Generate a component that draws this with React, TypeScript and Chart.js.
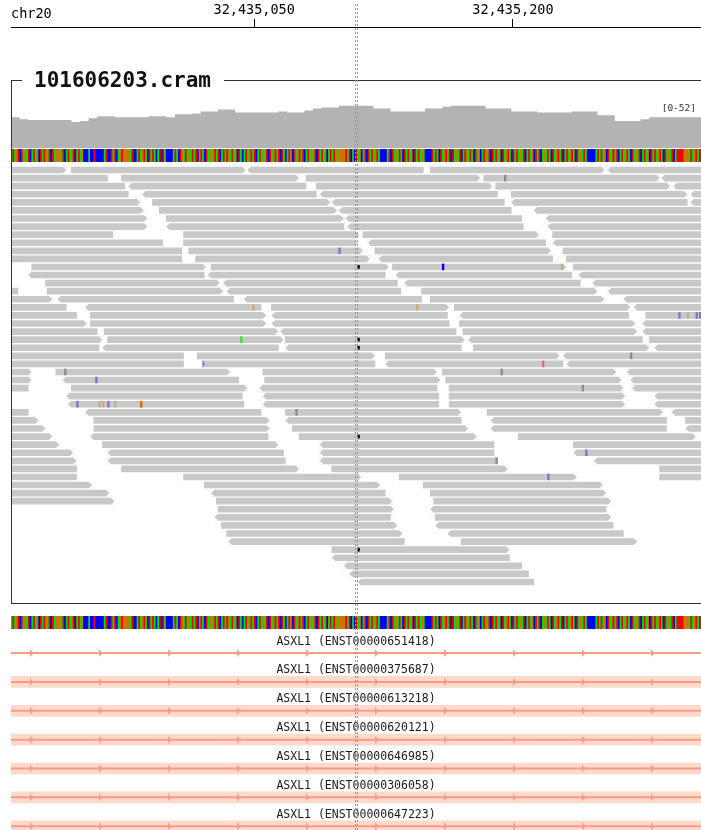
import React, { useEffect, useRef } from 'react';
import { Chart, registerables } from 'chart.js';

Chart.register(...registerables);

const MONO = '"DejaVu Sans Mono", monospace';

// ---------------- data ----------------
const CHROM = 'chr20';
const REGION_START = 32434909;
const REGION_END = 32435309;
const CENTER = (REGION_START + REGION_END) / 2;
const RULER_TICKS = [32435050, 32435200];
const TRACK_NAME = '101606203.cram';

const COVERAGE_MAX = 52;
const COVERAGE_BIN = 5; // bp per value
const coverageDepth = [
  32, 32, 30, 29, 29, 29, 29, 29, 27, 28,
  31, 33, 33, 32, 32, 32, 32, 33, 33, 32,
  35, 35, 36, 38, 38, 40, 40, 37, 37, 37,
  37, 37, 38, 37, 37, 39, 41, 42, 42, 44,
  44, 44, 44, 41, 41, 38, 38, 38, 38, 41,
  41, 43, 44, 44, 44, 44, 41, 41, 41, 38,
  38, 38, 37, 37, 37, 37, 38, 38, 38, 34,
  34, 28, 28, 28, 30, 32, 32, 32, 32, 32,
];

const SEQUENCE =
  'ATAGTCTAGA' + 'TCATAGCTAT' + 'GATCTAGGGA' + 'TCATAGTCAT' + 'AGCCCACCTC' +
  'CCCCATCCTA' + 'TCAGTGGGGA' + 'TCCATAGTAC' + 'TATACATCTA' + 'CCCCATACTG' +
  'ATAGATATCG' + 'TACTAGAGTA' + 'TCATATGATA' + 'GCTACATAGT' + 'ATCATAGATC' +
  'TAGTATCTAC' + 'ATGCTAGTAT' + 'CATAGATCTA' + 'TAGCATATGA' + 'GGGGTATCAC' +
  'TAGCATCTAT' + 'AGTACCCCAT' + 'CTAGATACTA' + 'TAGCTATAGA' + 'CCCCTATACT' +
  'AGTATCTAGA' + 'TCATGATACT' + 'AGCATGATCT' + 'ATAGCTAGTA' + 'CTATAGATCA' +
  'TAGCTATCAG' + 'ATACTAGTAT' + 'CATAGTACTA' + 'GATACCCCCA' + 'TATAGCTAGT' +
  'ATCATAGTAC' + 'TAGATCATAG' + 'CTATAGTACT' + 'AGATCATTTT' + 'GGGATAGTAT';

// reads: [row, start (bp from REGION_START), end (bp from REGION_START), strand]
const reads: [number, number, number, string][] = [
  [0, -69, 32, 'F'], [0, 35, 136, 'F'], [0, 137, 239, 'R'], [0, 243, 344, 'F'], [0, 346, 447, 'R'],
  [1, -45, 56, 'R'], [1, 64, 167, 'F'], [1, 171, 272, 'F'], [1, 274, 376, 'F'], [1, 377, 478, 'R'],
  [2, -35, 66, 'R'], [2, 68, 171, 'R'], [2, 177, 279, 'F'], [2, 281, 382, 'F'], [2, 384, 485, 'R'],
  [3, -33, 68, 'R'], [3, 76, 177, 'R'], [3, 179, 282, 'R'], [3, 290, 392, 'F'], [3, 394, 495, 'R'],
  [4, -26, 75, 'F'], [4, 82, 185, 'F'], [4, 186, 286, 'R'], [4, 290, 392, 'R'], [4, 394, 495, 'R'],
  [5, -24, 77, 'F'], [5, 86, 189, 'F'], [5, 190, 290, 'R'], [5, 303, 404, 'R'],
  [6, -22, 79, 'F'], [6, 90, 193, 'F'], [6, 194, 296, 'R'], [6, 310, 411, 'R'],
  [7, -22, 79, 'F'], [7, 90, 193, 'R'], [7, 195, 297, 'R'], [7, 311, 412, 'R'],
  [8, -42, 59, 'R'], [8, 100, 202, 'F'], [8, 204, 306, 'F'], [8, 314, 415, 'F'],
  [9, -13, 88, 'R'], [9, 100, 201, 'F'], [9, 207, 310, 'R'], [9, 314, 415, 'R'],
  [10, -2, 99, 'R'], [10, 103, 204, 'F'], [10, 211, 313, 'F'], [10, 320, 421, 'F'],
  [11, -2, 99, 'R'], [11, 107, 208, 'F'], [11, 213, 314, 'R'], [11, 322, 423, 'F'],
  [12, 12, 113, 'F'], [12, 116, 219, 'F'], [12, 221, 322, 'F'], [12, 326, 427, 'F'],
  [13, 10, 112, 'R'], [13, 114, 217, 'R'], [13, 223, 325, 'R'], [13, 329, 430, 'R'],
  [14, 20, 121, 'F'], [14, 123, 224, 'R'], [14, 228, 330, 'R'], [14, 337, 438, 'R'],
  [15, -97, 4, 'R'], [15, 21, 123, 'F'], [15, 125, 226, 'R'], [15, 238, 340, 'F'], [15, 346, 447, 'R'],
  [16, -77, 24, 'F'], [16, 27, 129, 'R'], [16, 135, 238, 'R'], [16, 243, 344, 'F'], [16, 355, 456, 'R'],
  [17, -69, 32, 'R'], [17, 43, 145, 'R'], [17, 151, 254, 'F'], [17, 257, 359, 'F'], [17, 361, 462, 'R'],
  [18, -63, 38, 'R'], [18, 46, 148, 'F'], [18, 151, 253, 'R'], [18, 260, 358, 'R'], [18, 368, 469, 'F'],
  [19, -57, 44, 'F'], [19, 46, 148, 'F'], [19, 151, 254, 'R'], [19, 260, 362, 'F'], [19, 366, 467, 'R'],
  [20, -51, 50, 'R'], [20, 54, 155, 'F'], [20, 156, 258, 'R'], [20, 262, 363, 'F'], [20, 366, 467, 'R'],
  [21, -48, 53, 'F'], [21, 56, 158, 'F'], [21, 159, 263, 'F'], [21, 265, 366, 'R'], [21, 370, 471, 'F'],
  [22, -50, 51, 'R'], [22, 53, 155, 'R'], [22, 159, 261, 'R'], [22, 268, 370, 'F'], [22, 373, 474, 'R'],
  [23, -1, 100, 'R'], [23, 108, 211, 'F'], [23, 217, 318, 'F'], [23, 320, 421, 'R'],
  [24, -1, 100, 'R'], [24, 111, 211, 'R'], [24, 217, 320, 'R'], [24, 322, 423, 'R'],
  [25, -89, 12, 'F'], [25, 26, 127, 'F'], [25, 146, 247, 'F'], [25, 250, 351, 'F'], [25, 357, 458, 'R'],
  [26, -89, 12, 'F'], [26, 30, 132, 'R'], [26, 147, 249, 'F'], [26, 252, 354, 'F'], [26, 359, 460, 'R'],
  [27, -91, 10, 'R'], [27, 35, 137, 'F'], [27, 144, 247, 'R'], [27, 254, 355, 'F'], [27, 360, 461, 'R'],
  [28, 32, 134, 'R'], [28, 146, 248, 'R'], [28, 254, 356, 'F'], [28, 373, 474, 'R'],
  [29, 33, 135, 'R'], [29, 146, 248, 'R'], [29, 254, 356, 'F'], [29, 373, 474, 'R'],
  [30, -91, 10, 'R'], [30, 43, 145, 'R'], [30, 159, 261, 'F'], [30, 276, 378, 'F'], [30, 383, 484, 'R'],
  [31, -85, 16, 'F'], [31, 48, 150, 'F'], [31, 159, 261, 'R'], [31, 278, 380, 'R'], [31, 391, 492, 'F'],
  [32, -81, 20, 'F'], [32, 48, 150, 'F'], [32, 163, 265, 'F'], [32, 278, 380, 'R'], [32, 391, 492, 'R'],
  [33, -77, 24, 'F'], [33, 46, 149, 'R'], [33, 167, 270, 'F'], [33, 294, 397, 'F'],
  [34, -73, 28, 'F'], [34, 53, 155, 'F'], [34, 179, 280, 'R'], [34, 326, 427, 'F'],
  [35, -65, 36, 'F'], [35, 56, 158, 'R'], [35, 179, 280, 'R'], [35, 326, 427, 'R'],
  [36, -63, 38, 'F'], [36, 56, 159, 'R'], [36, 179, 282, 'R'], [36, 338, 439, 'R'],
  [37, -63, 38, 'R'], [37, 64, 167, 'F'], [37, 186, 288, 'F'], [37, 376, 477, 'F'],
  [38, -63, 38, 'R'], [38, 100, 203, 'F'], [38, 225, 328, 'F'], [38, 376, 477, 'F'],
  [39, -54, 47, 'F'], [39, 112, 214, 'F'], [39, 239, 343, 'F'],
  [40, -44, 57, 'F'], [40, 116, 217, 'R'], [40, 243, 345, 'F'],
  [41, -41, 60, 'F'], [41, 119, 221, 'F'], [41, 245, 348, 'F'],
  [42, 120, 222, 'F'], [42, 243, 345, 'R'],
  [43, 118, 220, 'R'], [43, 246, 348, 'F'],
  [44, 122, 224, 'F'], [44, 246, 349, 'R'],
  [45, 125, 227, 'F'], [45, 253, 355, 'R'],
  [46, 126, 228, 'R'], [46, 261, 363, 'F'],
  [47, 186, 289, 'F'],
  [48, 186, 289, 'R'],
  [49, 193, 296, 'R'],
  [50, 196, 300, 'R'],
  [51, 201, 303, 'R'],
];

// mismatches: [row, position (bp from REGION_START), base, low quality]
const mismatches: [number, number, string, number][] = [
  [1, 286, 'N', 0], [10, 190, 'C', 1], [12, 250, 'C', 0], [12, 319, 'G', 1], [17, 140, 'G', 1],
  [17, 235, 'G', 1], [18, 387, 'C', 1], [18, 392, 'G', 1], [18, 397, 'C', 1], [18, 399, 'C', 1],
  [21, 133, 'A', 0], [23, 359, 'N', 0], [24, 111, 'C', 1], [24, 308, 'T', 1], [25, 31, 'N', 0],
  [25, 284, 'N', 0], [26, 49, 'C', 1], [27, 331, 'N', 0], [29, 38, 'C', 1], [29, 51, 'G', 1],
  [29, 53, 'G', 1], [29, 56, 'C', 1], [29, 60, 'G', 1], [29, 75, 'G', 0], [30, 165, 'N', 0],
  [35, 333, 'C', 1], [36, 281, 'N', 0], [38, 311, 'C', 1],
];

// deletions: [row, position (bp from REGION_START)]
const deletions: [number, number][] = [[12, 201], [21, 201], [22, 201], [33, 201], [47, 201]];

const GENE = 'ASXL1';
const transcripts = [
  'ENST00000651418', 'ENST00000375687', 'ENST00000613218', 'ENST00000620121',
  'ENST00000646985', 'ENST00000306058', 'ENST00000647223',
];
const transcriptHasExonHere = [false, true, true, true, true, true, true];
const GENE_START = 32358330;
const GENE_END = 32439319;
const EXON_START = 32433476;
const EXON_END = 32439319;
const strandArrowOffsets = [12, 52, 92, 132, 172, 212, 252, 292, 332, 372];

// ---------------- styles ----------------
const BASE_COLORS: Record<string, string> = {
  A: 'rgb(0,225,0)', C: 'rgb(0,0,245)', G: 'rgb(209,113,5)', T: 'rgb(245,0,0)', N: 'rgb(140,140,140)',
};
const MISMATCH_SOLID: Record<string, string> = {
  A: 'rgb(60,225,60)', C: 'rgb(0,0,230)', G: 'rgb(209,113,5)', T: 'rgb(240,0,0)', N: 'rgb(140,140,140)',
};
const MISMATCH_FADED: Record<string, string> = {
  A: 'rgba(0,210,0,0.45)', C: 'rgba(0,0,230,0.4)', G: 'rgba(209,113,5,0.32)', T: 'rgba(240,0,0,0.45)', N: 'rgb(150,150,150)',
};
const COVERAGE_COLOR = 'rgb(179,179,179)';
const READ_COLOR = 'rgb(200,200,200)';
const GENE_LINE = 'rgb(250,155,135)';
const GENE_BAND = 'rgb(255,218,204)';

const common: any = {
  responsive: false,
  maintainAspectRatio: false,
  animation: false,
  events: [],
  layout: { autoPadding: false, padding: { left: 11, right: 0, top: 0, bottom: 0 } },
  plugins: { legend: { display: false }, tooltip: { enabled: false }, title: { display: false } },
};

const xScale = (extra: any = {}) => ({
  type: 'linear', min: REGION_START, max: REGION_END, display: false, offset: false, ...extra,
});

// ---------------- configs ----------------
function rulerConfig(): any {
  const rulerPlugin = {
    id: 'rulerExtras',
    afterDraw(chart: any) {
      const { ctx, chartArea, scales } = chart;
      const x = scales.x;
      ctx.save();
      ctx.font = `13.5px ${MONO}`;
      ctx.fillStyle = '#000';
      ctx.textAlign = 'left';
      ctx.textBaseline = 'alphabetic';
      ctx.fillText(CHROM, chartArea.left, x.bottom - 9);
      // centre guide line
      const cx = Math.round(x.getPixelForValue(CENTER));
      ctx.strokeStyle = 'rgb(150,150,150)';
      ctx.lineWidth = 1;
      ctx.setLineDash([2, 2]);
      [cx - 0.5, cx + 1.5].forEach((lx) => {
        ctx.beginPath();
        ctx.moveTo(lx, 4);
        ctx.lineTo(lx, chart.height);
        ctx.stroke();
      });
      ctx.restore();
    },
  };
  return {
    type: 'line',
    data: { datasets: [] },
    options: {
      ...common,
      scales: {
        x: {
          type: 'linear', position: 'top', min: REGION_START, max: REGION_END, offset: false,
          afterBuildTicks: (s: any) => { s.ticks = RULER_TICKS.map((v) => ({ value: v })); },
          afterFit: (s: any) => { s.height = 27; },
          ticks: {
            autoSkip: false, maxRotation: 0, minRotation: 0, padding: 0, color: '#000',
            font: { family: MONO, size: 13.5 },
            callback: (v: any) => Number(v).toLocaleString('en-US'),
          },
          grid: { drawOnChartArea: false, drawTicks: true, tickLength: 8, color: '#000', lineWidth: 1 },
          border: { display: true, color: '#000', width: 1 },
        },
        y: { display: false, min: 0, max: 1 },
      },
    },
    plugins: [rulerPlugin],
  };
}

function coverageConfig(): any {
  const pts = coverageDepth.map((d, i) => ({ x: REGION_START + i * COVERAGE_BIN, y: d }));
  pts.push({ x: REGION_END, y: coverageDepth[coverageDepth.length - 1] });
  const rangePlugin = {
    id: 'rangeLabel',
    afterDraw(chart: any) {
      const { ctx, chartArea } = chart;
      ctx.save();
      ctx.font = `9.5px ${MONO}`;
      ctx.fillStyle = '#333';
      ctx.textAlign = 'right';
      ctx.textBaseline = 'middle';
      ctx.fillText(`[0-${COVERAGE_MAX}]`, chartArea.right - 5, chartArea.top + 11);
      ctx.restore();
    },
  };
  return {
    type: 'line',
    data: {
      datasets: [{
        data: pts, stepped: 'after', fill: 'origin', backgroundColor: COVERAGE_COLOR,
        borderColor: 'transparent', borderWidth: 0, pointRadius: 0,
      }],
    },
    options: {
      ...common,
      scales: { x: xScale(), y: { type: 'linear', min: 0, max: COVERAGE_MAX, display: false } },
    },
    plugins: [rangePlugin],
  };
}

function sequenceConfig(): any {
  const bases = SEQUENCE.split('');
  return {
    type: 'bar',
    data: {
      datasets: [{
        data: bases.map((_b, i) => ({ x: REGION_START + i + 0.5, y: 1 })),
        backgroundColor: bases.map((b) => BASE_COLORS[b]),
        barPercentage: 1, categoryPercentage: 1, borderWidth: 0, grouped: false,
      }],
    },
    options: {
      ...common,
      scales: { x: xScale(), y: { type: 'linear', min: 0, max: 1, display: false, offset: false } },
    },
  };
}

const READ_THICKNESS = 6;

function readsConfig(): any {
  const rows = Math.max(...reads.map((r) => r[0])) + 1;
  const tipPlugin = {
    id: 'readTips',
    afterDatasetDraw(chart: any, args: any) {
      if (args.index !== 0) return;
      const { ctx, chartArea, scales } = chart;
      const { x, y } = scales;
      const tip = 3.5;
      ctx.save();
      ctx.beginPath();
      ctx.rect(chartArea.left, chartArea.top, chartArea.width, chartArea.height);
      ctx.clip();
      ctx.fillStyle = '#ffffff';
      reads.forEach(([row, s, e, strand]) => {
        const yc = y.getPixelForValue(row);
        const top = yc - READ_THICKNESS / 2 - 0.5;
        const bot = yc + READ_THICKNESS / 2 + 0.5;
        const fwd = strand === 'F';
        const xe = x.getPixelForValue(REGION_START + (fwd ? e : s));
        const d = fwd ? -1 : 1;
        ctx.beginPath();
        ctx.moveTo(xe + d * tip, top);
        ctx.lineTo(xe - d * 0.5, top);
        ctx.lineTo(xe - d * 0.5, bot);
        ctx.lineTo(xe + d * tip, bot);
        ctx.lineTo(xe, yc);
        ctx.closePath();
        ctx.fill();
      });
      ctx.restore();
    },
  };
  return {
    type: 'bar',
    data: {
      datasets: [
        {
          data: reads.map(([row, s, e]) => ({ y: row, x: [REGION_START + s, REGION_START + e] })),
          backgroundColor: READ_COLOR, barThickness: READ_THICKNESS, grouped: false, borderWidth: 0,
          order: 3,
        },
        {
          data: mismatches.map(([row, p]) => ({ y: row, x: [REGION_START + p, REGION_START + p + 1] })),
          backgroundColor: mismatches.map(([, , b, q]) => (q ? MISMATCH_FADED[b] : MISMATCH_SOLID[b])),
          barThickness: READ_THICKNESS, grouped: false, borderWidth: 0, order: 2,
        },
        {
          data: deletions.map(([row, p]) => ({ y: row, x: [REGION_START + p, REGION_START + p + 1] })),
          backgroundColor: '#000', barThickness: 3, grouped: false, borderWidth: 0, order: 1,
        },
      ],
    },
    options: {
      ...common,
      indexAxis: 'y',
      scales: {
        x: xScale(),
        y: { type: 'linear', reverse: true, min: -0.5, max: rows - 0.5, display: false, offset: false },
      },
    },
    plugins: [tipPlugin],
  };
}

function geneConfig(): any {
  const arrow = document.createElement('canvas');
  arrow.width = 4;
  arrow.height = 8;
  const actx = arrow.getContext('2d')!;
  actx.fillStyle = GENE_LINE;
  actx.beginPath();
  actx.moveTo(0, 0);
  actx.lineTo(4, 4);
  actx.lineTo(0, 8);
  actx.closePath();
  actx.fill();

  const labelPlugin = {
    id: 'geneLabels',
    afterDatasetsDraw(chart: any) {
      const { ctx, chartArea, scales } = chart;
      ctx.save();
      ctx.font = `11.5px ${MONO}`;
      ctx.fillStyle = '#1a1a1a';
      ctx.textAlign = 'center';
      ctx.textBaseline = 'middle';
      const cx = (chartArea.left + chartArea.right) / 2;
      transcripts.forEach((t, i) => {
        ctx.fillText(`${GENE} (${t})`, cx, scales.y.getPixelForValue(i) - 11.5);
      });
      ctx.restore();
    },
  };

  const datasets: any[] = [];
  datasets.push({
    type: 'bar', indexAxis: 'y',
    data: transcripts
      .map((_t, i) => (transcriptHasExonHere[i] ? { y: i, x: [EXON_START, EXON_END] } : null))
      .filter(Boolean),
    backgroundColor: GENE_BAND, barThickness: 11, grouped: false, borderWidth: 0, order: 3,
  });
  transcripts.forEach((_t, i) => {
    datasets.push({
      type: 'line',
      data: [{ x: GENE_START, y: i }, { x: GENE_END, y: i }],
      borderColor: GENE_LINE, borderWidth: 2, pointRadius: 0, fill: false, order: 2,
    });
  });
  datasets.push({
    type: 'scatter',
    data: transcripts.flatMap((_t, i) => strandArrowOffsets.map((o) => ({ x: REGION_START + o, y: i }))),
    pointStyle: arrow, pointRadius: 4, borderWidth: 0,
    backgroundColor: GENE_LINE, borderColor: GENE_LINE, order: 1,
  });

  return {
    type: 'line',
    data: { datasets },
    options: {
      ...common,
      scales: {
        x: xScale(),
        y: { type: 'linear', reverse: true, min: -0.8, max: transcripts.length - 0.8, display: false, offset: false },
      },
    },
    plugins: [labelPlugin],
  };
}

// ---------------- components ----------------
function ChartCanvas({ top, height, build, z = 1 }: { top: number; height: number; build: () => any; z?: number }) {
  const ref = useRef<HTMLCanvasElement>(null);
  useEffect(() => {
    const chart = new Chart(ref.current as HTMLCanvasElement, build());
    return () => chart.destroy();
  }, []);
  return (
    <canvas
      ref={ref}
      width={701}
      height={height}
      style={{ position: 'absolute', left: 0, top, width: 701, height, zIndex: z, pointerEvents: 'none' }}
    />
  );
}

export default function App() {
  return (
    <div
      style={{
        position: 'absolute', left: 0, top: 0, width: 701, height: 830, overflow: 'hidden',
        background: '#fff', fontFamily: MONO,
      }}
    >
      <ChartCanvas top={98} height={50} build={coverageConfig} />
      <ChartCanvas top={149} height={13} build={sequenceConfig} />
      <ChartCanvas top={166} height={420} build={readsConfig} />
      <ChartCanvas top={616} height={13} build={sequenceConfig} />
      <ChartCanvas top={630} height={202} build={geneConfig} />
      <div
        style={{
          position: 'absolute', left: 11, top: 80, width: 690, height: 524, boxSizing: 'border-box',
          borderTop: '1px solid #333', borderLeft: '1px solid #333', borderBottom: '1px solid #333',
          zIndex: 2,
        }}
      />
      <div
        style={{
          position: 'absolute', left: 22, top: 69, height: 22, lineHeight: '22px', padding: '0 13px 0 12px',
          background: '#fff', fontWeight: 'bold', fontSize: 21, color: '#111', fontFamily: MONO, zIndex: 3,
          whiteSpace: 'nowrap',
        }}
      >
        {TRACK_NAME}
      </div>
      <ChartCanvas top={0} height={830} build={rulerConfig} z={4} />
    </div>
  );
}
